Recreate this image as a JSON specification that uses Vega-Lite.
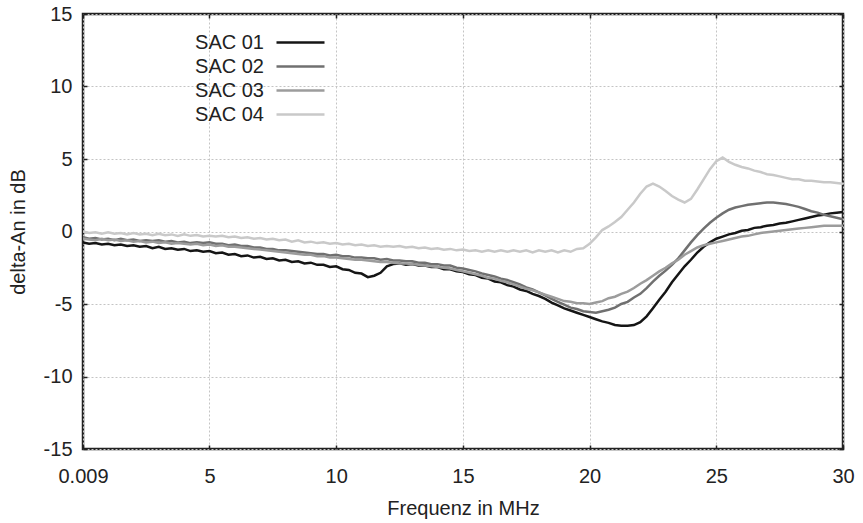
{
  "$schema": "https://vega.github.io/schema/vega-lite/v6.json",
  "autosize": "none",
  "width": 760,
  "height": 435,
  "padding": {"left": 83, "top": 14, "right": 20, "bottom": 74},
  "background": "white",
  "config": {
    "font": "Liberation Sans",
    "view": {"stroke": "#222", "strokeWidth": 2.5},
    "axis": {
      "labelFont": "Liberation Sans",
      "titleFont": "Liberation Sans",
      "labelColor": "#222",
      "titleColor": "#222",
      "titleFontWeight": "normal",
      "labelFlush": false,
      "domain": false,
      "tickColor": "#222",
      "tickWidth": 1.5,
      "gridColor": "#c4c4c4",
      "gridDash": [2, 2],
      "gridWidth": 1
    }
  },
  "data": {
    "values": [
      {"f": 0.009, "SAC 01": -0.75, "SAC 02": -0.4, "SAC 03": -0.5, "SAC 04": 0.0},
      {"f": 0.25, "SAC 01": -0.85, "SAC 02": -0.5, "SAC 03": -0.55, "SAC 04": -0.1},
      {"f": 0.5, "SAC 01": -0.8, "SAC 02": -0.45, "SAC 03": -0.6, "SAC 04": -0.05},
      {"f": 0.75, "SAC 01": -0.9, "SAC 02": -0.55, "SAC 03": -0.5, "SAC 04": -0.15},
      {"f": 1.0, "SAC 01": -0.85, "SAC 02": -0.5, "SAC 03": -0.6, "SAC 04": -0.05},
      {"f": 1.25, "SAC 01": -0.95, "SAC 02": -0.6, "SAC 03": -0.55, "SAC 04": -0.15},
      {"f": 1.5, "SAC 01": -0.9, "SAC 02": -0.5, "SAC 03": -0.65, "SAC 04": -0.1},
      {"f": 1.75, "SAC 01": -1.0, "SAC 02": -0.6, "SAC 03": -0.6, "SAC 04": -0.2},
      {"f": 2.0, "SAC 01": -0.95, "SAC 02": -0.55, "SAC 03": -0.7, "SAC 04": -0.1},
      {"f": 2.25, "SAC 01": -1.05, "SAC 02": -0.65, "SAC 03": -0.65, "SAC 04": -0.2},
      {"f": 2.5, "SAC 01": -1.0, "SAC 02": -0.6, "SAC 03": -0.75, "SAC 04": -0.15},
      {"f": 2.75, "SAC 01": -1.15, "SAC 02": -0.65, "SAC 03": -0.7, "SAC 04": -0.25},
      {"f": 3.0, "SAC 01": -1.05, "SAC 02": -0.6, "SAC 03": -0.8, "SAC 04": -0.15},
      {"f": 3.25, "SAC 01": -1.2, "SAC 02": -0.7, "SAC 03": -0.75, "SAC 04": -0.25},
      {"f": 3.5, "SAC 01": -1.15, "SAC 02": -0.65, "SAC 03": -0.85, "SAC 04": -0.2},
      {"f": 3.75, "SAC 01": -1.25, "SAC 02": -0.75, "SAC 03": -0.8, "SAC 04": -0.3},
      {"f": 4.0, "SAC 01": -1.2, "SAC 02": -0.7, "SAC 03": -0.85, "SAC 04": -0.2},
      {"f": 4.25, "SAC 01": -1.35, "SAC 02": -0.8, "SAC 03": -0.9, "SAC 04": -0.3},
      {"f": 4.5, "SAC 01": -1.3, "SAC 02": -0.75, "SAC 03": -0.85, "SAC 04": -0.25},
      {"f": 4.75, "SAC 01": -1.4, "SAC 02": -0.8, "SAC 03": -0.95, "SAC 04": -0.35},
      {"f": 5.0, "SAC 01": -1.35, "SAC 02": -0.75, "SAC 03": -0.9, "SAC 04": -0.3},
      {"f": 5.25, "SAC 01": -1.5, "SAC 02": -0.85, "SAC 03": -1.0, "SAC 04": -0.35},
      {"f": 5.5, "SAC 01": -1.45, "SAC 02": -0.85, "SAC 03": -0.95, "SAC 04": -0.3},
      {"f": 5.75, "SAC 01": -1.6, "SAC 02": -0.95, "SAC 03": -1.05, "SAC 04": -0.4},
      {"f": 6.0, "SAC 01": -1.55, "SAC 02": -0.9, "SAC 03": -1.05, "SAC 04": -0.35},
      {"f": 6.25, "SAC 01": -1.7, "SAC 02": -1.0, "SAC 03": -1.1, "SAC 04": -0.45},
      {"f": 6.5, "SAC 01": -1.65, "SAC 02": -1.0, "SAC 03": -1.15, "SAC 04": -0.4},
      {"f": 6.75, "SAC 01": -1.8, "SAC 02": -1.1, "SAC 03": -1.2, "SAC 04": -0.5},
      {"f": 7.0, "SAC 01": -1.75, "SAC 02": -1.1, "SAC 03": -1.25, "SAC 04": -0.45},
      {"f": 7.25, "SAC 01": -1.9, "SAC 02": -1.2, "SAC 03": -1.3, "SAC 04": -0.55},
      {"f": 7.5, "SAC 01": -1.85, "SAC 02": -1.2, "SAC 03": -1.35, "SAC 04": -0.5},
      {"f": 7.75, "SAC 01": -2.0, "SAC 02": -1.3, "SAC 03": -1.4, "SAC 04": -0.6},
      {"f": 8.0, "SAC 01": -1.95, "SAC 02": -1.3, "SAC 03": -1.45, "SAC 04": -0.55},
      {"f": 8.25, "SAC 01": -2.1, "SAC 02": -1.35, "SAC 03": -1.5, "SAC 04": -0.7},
      {"f": 8.5, "SAC 01": -2.05, "SAC 02": -1.4, "SAC 03": -1.55, "SAC 04": -0.6},
      {"f": 8.75, "SAC 01": -2.2, "SAC 02": -1.45, "SAC 03": -1.6, "SAC 04": -0.75},
      {"f": 9.0, "SAC 01": -2.15, "SAC 02": -1.5, "SAC 03": -1.6, "SAC 04": -0.7},
      {"f": 9.25, "SAC 01": -2.3, "SAC 02": -1.55, "SAC 03": -1.7, "SAC 04": -0.8},
      {"f": 9.5, "SAC 01": -2.3, "SAC 02": -1.55, "SAC 03": -1.7, "SAC 04": -0.75},
      {"f": 9.75, "SAC 01": -2.45, "SAC 02": -1.65, "SAC 03": -1.8, "SAC 04": -0.85},
      {"f": 10.0, "SAC 01": -2.4, "SAC 02": -1.6, "SAC 03": -1.8, "SAC 04": -0.8},
      {"f": 10.25, "SAC 01": -2.6, "SAC 02": -1.7, "SAC 03": -1.85, "SAC 04": -0.9},
      {"f": 10.5, "SAC 01": -2.65, "SAC 02": -1.7, "SAC 03": -1.9, "SAC 04": -0.85},
      {"f": 10.75, "SAC 01": -2.85, "SAC 02": -1.8, "SAC 03": -1.95, "SAC 04": -0.95},
      {"f": 11.0, "SAC 01": -2.9, "SAC 02": -1.8, "SAC 03": -1.95, "SAC 04": -0.9},
      {"f": 11.25, "SAC 01": -3.15, "SAC 02": -1.85, "SAC 03": -2.0, "SAC 04": -1.0},
      {"f": 11.5, "SAC 01": -3.05, "SAC 02": -1.85, "SAC 03": -2.05, "SAC 04": -0.95},
      {"f": 11.75, "SAC 01": -2.85, "SAC 02": -1.95, "SAC 03": -2.1, "SAC 04": -1.05},
      {"f": 12.0, "SAC 01": -2.4, "SAC 02": -1.9, "SAC 03": -2.1, "SAC 04": -1.0},
      {"f": 12.25, "SAC 01": -2.25, "SAC 02": -2.0, "SAC 03": -2.15, "SAC 04": -1.05},
      {"f": 12.5, "SAC 01": -2.2, "SAC 02": -2.0, "SAC 03": -2.2, "SAC 04": -1.0},
      {"f": 12.75, "SAC 01": -2.3, "SAC 02": -2.05, "SAC 03": -2.2, "SAC 04": -1.1},
      {"f": 13.0, "SAC 01": -2.25, "SAC 02": -2.05, "SAC 03": -2.25, "SAC 04": -1.05},
      {"f": 13.25, "SAC 01": -2.35, "SAC 02": -2.15, "SAC 03": -2.3, "SAC 04": -1.15},
      {"f": 13.5, "SAC 01": -2.35, "SAC 02": -2.15, "SAC 03": -2.35, "SAC 04": -1.1},
      {"f": 13.75, "SAC 01": -2.45, "SAC 02": -2.25, "SAC 03": -2.4, "SAC 04": -1.2},
      {"f": 14.0, "SAC 01": -2.45, "SAC 02": -2.25, "SAC 03": -2.45, "SAC 04": -1.15},
      {"f": 14.25, "SAC 01": -2.6, "SAC 02": -2.35, "SAC 03": -2.5, "SAC 04": -1.25},
      {"f": 14.5, "SAC 01": -2.6, "SAC 02": -2.35, "SAC 03": -2.55, "SAC 04": -1.2},
      {"f": 14.75, "SAC 01": -2.75, "SAC 02": -2.5, "SAC 03": -2.65, "SAC 04": -1.3},
      {"f": 15.0, "SAC 01": -2.8, "SAC 02": -2.55, "SAC 03": -2.75, "SAC 04": -1.25},
      {"f": 15.25, "SAC 01": -2.95, "SAC 02": -2.65, "SAC 03": -2.85, "SAC 04": -1.35},
      {"f": 15.5, "SAC 01": -3.0, "SAC 02": -2.75, "SAC 03": -2.95, "SAC 04": -1.3},
      {"f": 15.75, "SAC 01": -3.2, "SAC 02": -2.9, "SAC 03": -3.05, "SAC 04": -1.4},
      {"f": 16.0, "SAC 01": -3.25, "SAC 02": -3.0, "SAC 03": -3.2, "SAC 04": -1.3},
      {"f": 16.25, "SAC 01": -3.45, "SAC 02": -3.1, "SAC 03": -3.25, "SAC 04": -1.4},
      {"f": 16.5, "SAC 01": -3.5, "SAC 02": -3.25, "SAC 03": -3.4, "SAC 04": -1.3},
      {"f": 16.75, "SAC 01": -3.7, "SAC 02": -3.35, "SAC 03": -3.5, "SAC 04": -1.4},
      {"f": 17.0, "SAC 01": -3.8, "SAC 02": -3.5, "SAC 03": -3.65, "SAC 04": -1.3},
      {"f": 17.25, "SAC 01": -4.0, "SAC 02": -3.65, "SAC 03": -3.8, "SAC 04": -1.4},
      {"f": 17.5, "SAC 01": -4.1, "SAC 02": -3.85, "SAC 03": -3.95, "SAC 04": -1.3},
      {"f": 17.75, "SAC 01": -4.3, "SAC 02": -4.0, "SAC 03": -4.05, "SAC 04": -1.45},
      {"f": 18.0, "SAC 01": -4.45, "SAC 02": -4.2, "SAC 03": -4.2, "SAC 04": -1.3},
      {"f": 18.25, "SAC 01": -4.65, "SAC 02": -4.4, "SAC 03": -4.35, "SAC 04": -1.4},
      {"f": 18.5, "SAC 01": -4.9, "SAC 02": -4.65, "SAC 03": -4.5, "SAC 04": -1.3},
      {"f": 18.75, "SAC 01": -5.1, "SAC 02": -4.85, "SAC 03": -4.65, "SAC 04": -1.45},
      {"f": 19.0, "SAC 01": -5.3, "SAC 02": -5.05, "SAC 03": -4.8, "SAC 04": -1.3},
      {"f": 19.25, "SAC 01": -5.45, "SAC 02": -5.25, "SAC 03": -4.85, "SAC 04": -1.4},
      {"f": 19.5, "SAC 01": -5.6, "SAC 02": -5.35, "SAC 03": -4.95, "SAC 04": -1.2},
      {"f": 19.75, "SAC 01": -5.75, "SAC 02": -5.5, "SAC 03": -4.95, "SAC 04": -1.15},
      {"f": 20.0, "SAC 01": -5.9, "SAC 02": -5.55, "SAC 03": -5.0, "SAC 04": -0.85},
      {"f": 20.25, "SAC 01": -6.05, "SAC 02": -5.6, "SAC 03": -4.9, "SAC 04": -0.4},
      {"f": 20.5, "SAC 01": -6.2, "SAC 02": -5.5, "SAC 03": -4.8, "SAC 04": 0.1},
      {"f": 20.75, "SAC 01": -6.3, "SAC 02": -5.4, "SAC 03": -4.6, "SAC 04": 0.35},
      {"f": 21.0, "SAC 01": -6.45, "SAC 02": -5.25, "SAC 03": -4.5, "SAC 04": 0.65},
      {"f": 21.25, "SAC 01": -6.5, "SAC 02": -5.0, "SAC 03": -4.3, "SAC 04": 1.0},
      {"f": 21.5, "SAC 01": -6.5, "SAC 02": -4.85, "SAC 03": -4.15, "SAC 04": 1.5},
      {"f": 21.75, "SAC 01": -6.45, "SAC 02": -4.55, "SAC 03": -3.9, "SAC 04": 2.0},
      {"f": 22.0, "SAC 01": -6.25, "SAC 02": -4.3, "SAC 03": -3.6, "SAC 04": 2.6},
      {"f": 22.25, "SAC 01": -5.85, "SAC 02": -3.9, "SAC 03": -3.35, "SAC 04": 3.1},
      {"f": 22.5, "SAC 01": -5.3, "SAC 02": -3.45, "SAC 03": -3.05, "SAC 04": 3.3},
      {"f": 22.75, "SAC 01": -4.7, "SAC 02": -3.05, "SAC 03": -2.75, "SAC 04": 3.1},
      {"f": 23.0, "SAC 01": -4.15, "SAC 02": -2.7, "SAC 03": -2.5, "SAC 04": 2.8},
      {"f": 23.25, "SAC 01": -3.5, "SAC 02": -2.3, "SAC 03": -2.2, "SAC 04": 2.45},
      {"f": 23.5, "SAC 01": -2.95, "SAC 02": -1.85, "SAC 03": -1.95, "SAC 04": 2.2},
      {"f": 23.75, "SAC 01": -2.4, "SAC 02": -1.3, "SAC 03": -1.6, "SAC 04": 2.0},
      {"f": 24.0, "SAC 01": -1.95, "SAC 02": -0.75, "SAC 03": -1.35, "SAC 04": 2.25},
      {"f": 24.25, "SAC 01": -1.45, "SAC 02": -0.25, "SAC 03": -1.1, "SAC 04": 2.9},
      {"f": 24.5, "SAC 01": -1.05, "SAC 02": 0.2, "SAC 03": -0.95, "SAC 04": 3.6},
      {"f": 24.75, "SAC 01": -0.75, "SAC 02": 0.6, "SAC 03": -0.85, "SAC 04": 4.3},
      {"f": 25.0, "SAC 01": -0.5, "SAC 02": 0.95, "SAC 03": -0.75, "SAC 04": 4.85},
      {"f": 25.25, "SAC 01": -0.35, "SAC 02": 1.25, "SAC 03": -0.65, "SAC 04": 5.1},
      {"f": 25.5, "SAC 01": -0.2, "SAC 02": 1.5, "SAC 03": -0.55, "SAC 04": 4.8},
      {"f": 25.75, "SAC 01": -0.1, "SAC 02": 1.65, "SAC 03": -0.45, "SAC 04": 4.6},
      {"f": 26.0, "SAC 01": 0.05, "SAC 02": 1.75, "SAC 03": -0.35, "SAC 04": 4.45},
      {"f": 26.25, "SAC 01": 0.1, "SAC 02": 1.85, "SAC 03": -0.3, "SAC 04": 4.35},
      {"f": 26.5, "SAC 01": 0.25, "SAC 02": 1.9, "SAC 03": -0.2, "SAC 04": 4.2},
      {"f": 26.75, "SAC 01": 0.3, "SAC 02": 1.95, "SAC 03": -0.1, "SAC 04": 4.1},
      {"f": 27.0, "SAC 01": 0.4, "SAC 02": 2.0, "SAC 03": -0.05, "SAC 04": 3.95},
      {"f": 27.25, "SAC 01": 0.45, "SAC 02": 2.0, "SAC 03": 0.0, "SAC 04": 3.9},
      {"f": 27.5, "SAC 01": 0.55, "SAC 02": 1.95, "SAC 03": 0.05, "SAC 04": 3.8},
      {"f": 27.75, "SAC 01": 0.6, "SAC 02": 1.9, "SAC 03": 0.1, "SAC 04": 3.7},
      {"f": 28.0, "SAC 01": 0.7, "SAC 02": 1.8, "SAC 03": 0.15, "SAC 04": 3.6},
      {"f": 28.25, "SAC 01": 0.8, "SAC 02": 1.7, "SAC 03": 0.2, "SAC 04": 3.6},
      {"f": 28.5, "SAC 01": 0.9, "SAC 02": 1.55, "SAC 03": 0.25, "SAC 04": 3.5},
      {"f": 28.75, "SAC 01": 1.0, "SAC 02": 1.4, "SAC 03": 0.3, "SAC 04": 3.5},
      {"f": 29.0, "SAC 01": 1.1, "SAC 02": 1.3, "SAC 03": 0.35, "SAC 04": 3.45},
      {"f": 29.25, "SAC 01": 1.15, "SAC 02": 1.15, "SAC 03": 0.4, "SAC 04": 3.4},
      {"f": 29.5, "SAC 01": 1.25, "SAC 02": 1.05, "SAC 03": 0.4, "SAC 04": 3.4},
      {"f": 29.75, "SAC 01": 1.3, "SAC 02": 0.95, "SAC 03": 0.4, "SAC 04": 3.35},
      {"f": 30.0, "SAC 01": 1.35, "SAC 02": 0.85, "SAC 03": 0.4, "SAC 04": 3.3}
    ]
  },
  "transform": [
    {"fold": ["SAC 01", "SAC 02", "SAC 03", "SAC 04"], "as": ["series", "value"]}
  ],
  "layer": [
    {
      "mark": {"type": "line", "strokeWidth": 2.5, "clip": true},
      "encoding": {
        "x": {
          "field": "f", "type": "quantitative",
          "scale": {"domain": [0.009, 30], "nice": false, "zero": false},
          "axis": {
            "values": [0.009, 5, 10, 15, 20, 25, 30],
            "format": "~g",
            "grid": true,
            "tickSize": -4,
            "labelFontSize": 20,
            "labelPadding": 21,
            "title": "Frequenz in MHz",
            "titleFontSize": 20,
            "titlePadding": 12
          }
        },
        "y": {
          "field": "value", "type": "quantitative",
          "scale": {"domain": [-15, 15], "nice": false, "zero": false},
          "axis": {
            "values": [-15, -10, -5, 0, 5, 10, 15],
            "labelExpr": "replace(datum.label, '−', '-')",
            "grid": true,
            "tickSize": -4,
            "labelFontSize": 20,
            "labelPadding": 15,
            "title": "delta-An in dB",
            "titleFontSize": 20,
            "titlePadding": 15
          }
        },
        "color": {
          "field": "series", "type": "nominal",
          "scale": {
            "domain": ["SAC 01", "SAC 02", "SAC 03", "SAC 04"],
            "range": ["#151515", "#707070", "#9c9c9c", "#c9c9c9"]
          },
          "legend": {
            "title": null,
            "orient": "none",
            "legendX": 204,
            "legendY": 15,
            "padding": 0,
            "symbolType": "M-2,0H2",
            "symbolSize": 576,
            "symbolStrokeWidth": 2.5,
            "labelFontSize": 20,
            "labelColor": "#222",
            "labelAlign": "right",
            "labelOffset": -50,
            "rowPadding": -1
          }
        }
      }
    },
    {
      "mark": {"type": "line", "opacity": 0},
      "encoding": {
        "x": {
          "field": "f", "type": "quantitative",
          "axis": {"orient": "top", "values": [0.009, 5, 10, 15, 20, 25, 30], "labels": false, "grid": false, "tickSize": -4, "title": null}
        },
        "y": {
          "field": "value", "type": "quantitative",
          "axis": {"orient": "right", "values": [-15, -10, -5, 0, 5, 10, 15], "labels": false, "grid": false, "tickSize": -4, "title": null}
        },
        "detail": {"field": "series"}
      }
    }
  ],
  "resolve": {"axis": {"x": "independent", "y": "independent"}}
}
